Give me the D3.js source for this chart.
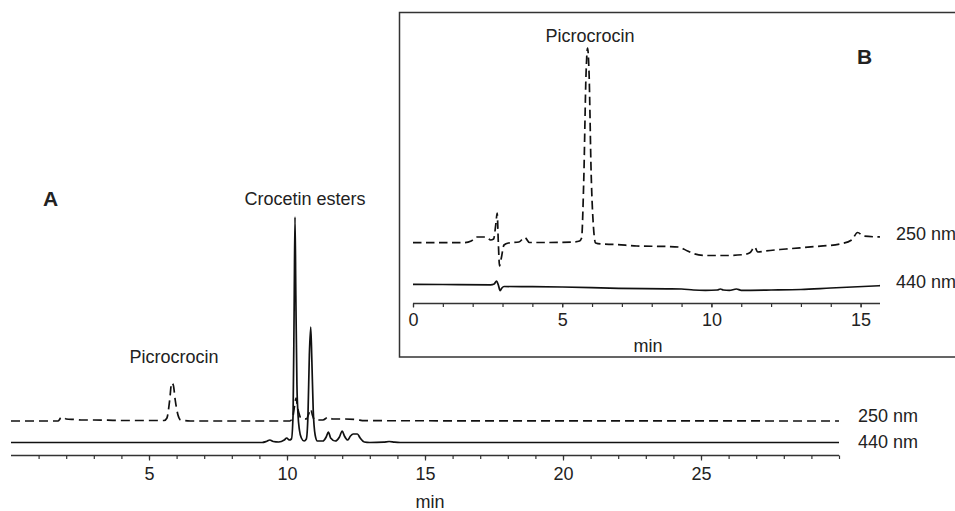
<!DOCTYPE html>
<html><head><meta charset="utf-8">
<script src="https://cdn.jsdelivr.net/npm/d3@7/dist/d3.min.js"></script>
<style>
html,body{margin:0;padding:0;background:#fff;}
svg{display:block;font-family:"Liberation Sans",Arial,sans-serif;}
</style></head>
<body><svg id="c" width="955" height="511"></svg>
<script>
// ---- Panel A (main chromatogram), time in min, signal in relative units (stacked) ----
const mainTicks = [5, 10, 15, 20, 25];
const mainMinor = d3.range(1, 31);
const main250 = [[0,34],[1.7,34],[1.8,37],[1.88,38],[2.0,36],[2.3,35.5],[2.6,35],[3.0,35],[3.5,34.8],[4,34.5],[5.55,34.5],[5.65,37],[5.75,55],[5.82,72],[5.88,70],[5.95,55],[6.05,40],[6.15,35],[6.5,34],[10.1,34],[10.2,37],[10.28,50],[10.33,57],[10.38,48],[10.43,42],[10.5,37],[10.7,36],[10.8,42],[10.86,46],[10.92,40],[11.0,35],[11.3,35],[11.5,38],[11.65,36],[12.0,36],[12.5,35.5],[12.8,34.3],[30,34]];
const main440 = [[0,12.5],[3,12.5],[9.1,12.5],[9.25,13.5],[9.38,15],[9.5,13.5],[9.7,13],[9.9,15],[9.99,17],[10.08,15],[10.16,16],[10.22,40],[10.26,150],[10.29,238],[10.32,160],[10.36,70],[10.4,40],[10.45,25],[10.52,17],[10.62,14],[10.7,16],[10.76,40],[10.81,100],[10.86,128],[10.9,95],[10.95,45],[11.02,20],[11.1,14],[11.3,14],[11.42,18],[11.5,23],[11.58,17],[11.75,14],[11.9,18],[12.0,24],[12.08,19],[12.2,15],[12.3,19],[12.4,21],[12.55,21],[12.65,17],[12.8,13],[13.0,12.5],[13.5,12.8],[13.7,13.5],[13.9,12.8],[14.1,12.5],[30,12.5]];

// ---- Panel B (inset) ----
const insetTicks = [0, 5, 10, 15];
const insetMinor = d3.range(0, 16);
const inset250 = [[0,60.3],[1.7,60.3],[1.95,62],[2.13,66],[2.45,66],[2.6,63],[2.7,64],[2.78,80],[2.82,90],[2.86,60],[2.9,37],[2.96,45],[3.05,58],[3.2,60],[3.55,61],[3.75,65.5],[3.9,60.5],[4.5,60.5],[5.4,61],[5.58,62],[5.65,65],[5.72,120],[5.8,230],[5.85,255],[5.9,230],[5.97,130],[6.05,75],[6.12,60],[6.3,59],[6.8,58.5],[7.5,57],[8.5,56.5],[8.9,56],[9.2,52],[9.4,49.5],[9.8,47.5],[10.5,47.5],[11.1,48.5],[11.3,50.5],[11.45,56],[11.55,51],[11.8,52],[12.5,54],[13.5,56.5],[14.3,59],[14.7,63],[14.9,70.5],[15.1,67],[15.65,66]];
const inset440 = [[0,18.7],[1,18.5],[2.6,18.2],[2.72,19],[2.8,22],[2.86,18],[2.92,12.3],[2.98,15],[3.05,16.5],[4,16.3],[5,16],[6.9,14.7],[8.5,14.2],[9.0,14],[9.4,13],[9.8,12.7],[10.2,13],[10.3,14],[10.4,13],[10.6,12.6],[10.84,14],[11,12.7],[12,13],[13,13.5],[14,15],[15.65,17.3]];

const svg = d3.select("#c");
const ink = "#111";
const axisCol = "#333";

// Main scales
const xA = d3.scaleLinear().domain([0, 30]).range([11, 839]);
const yA = d3.scaleLinear().domain([0, 250]).range([455, 205]);
// Inset scales
const xB = d3.scaleLinear().domain([0, 15.65]).range([413, 880]);
const yB = d3.scaleLinear().domain([0, 260]).range([303, 43]);

// Inset frame
svg.append("rect").attr("x", 399.5).attr("y", 12.5).attr("width", 600).attr("height", 344.5)
  .attr("fill", "#fff").attr("stroke", axisCol).attr("stroke-width", 1.5);

function drawAxis(x, yPos, major, minor, majorLen, minorLen, labelBase) {
  const g = svg.append("g").attr("transform", `translate(0,${yPos})`);
  g.append("line").attr("x1", x.range()[0]).attr("x2", x.range()[1])
    .attr("stroke", axisCol).attr("stroke-width", 1.5);
  const minorAxis = d3.axisBottom(x).tickValues(minor).tickSize(minorLen).tickFormat("").tickSizeOuter(0);
  const gm = g.append("g").call(minorAxis);
  gm.select(".domain").remove();
  gm.selectAll(".tick line").attr("stroke", axisCol).attr("stroke-width", 1.2);
  const majorAxis = d3.axisBottom(x).tickValues(major).tickSize(majorLen).tickPadding(labelBase).tickSizeOuter(0);
  const gM = g.append("g").call(majorAxis);
  gM.select(".domain").remove();
  gM.selectAll(".tick line").attr("stroke", axisCol).attr("stroke-width", 1.2);
  gM.selectAll(".tick text").attr("font-size", 18).attr("fill", "#222")
    .attr("font-family", '"Liberation Sans", Arial, sans-serif');
}

drawAxis(xA, 455.5, mainTicks, mainMinor, 5, 3.5, 7);
drawAxis(xB, 303.5, insetTicks, insetMinor, 4, 3.5, 6);

const lineA = d3.line().x(d => xA(d[0])).y(d => yA(d[1])).curve(d3.curveMonotoneX);
const lineB = d3.line().x(d => xB(d[0])).y(d => yB(d[1])).curve(d3.curveMonotoneX);

svg.append("path").datum(main250).attr("d", lineA).attr("fill", "none")
  .attr("stroke", ink).attr("stroke-width", 1.7).attr("stroke-dasharray", "9,5");
svg.append("path").datum(main440).attr("d", lineA).attr("fill", "none")
  .attr("stroke", ink).attr("stroke-width", 1.7);
svg.append("path").datum(inset250).attr("d", lineB).attr("fill", "none")
  .attr("stroke", ink).attr("stroke-width", 1.7).attr("stroke-dasharray", "8.5,4.5");
svg.append("path").datum(inset440).attr("d", lineB).attr("fill", "none")
  .attr("stroke", ink).attr("stroke-width", 1.7);

function txt(x, y, s, opts = {}) {
  svg.append("text").attr("x", x).attr("y", y).text(s)
    .attr("font-size", opts.size || 18)
    .attr("font-weight", opts.bold ? "bold" : "normal")
    .attr("text-anchor", opts.anchor || "start")
    .attr("fill", "#222");
}

txt(43, 206, "A", {bold: true, size: 21});
txt(305, 205, "Crocetin esters", {anchor: "middle"});
txt(174, 363, "Picrocrocin", {anchor: "middle"});
txt(858, 422, "250 nm");
txt(858, 448, "440 nm");
txt(430, 508, "min", {anchor: "middle"});

txt(590, 42, "Picrocrocin", {anchor: "middle"});
txt(857, 64, "B", {bold: true, size: 21});
txt(896, 240, "250 nm");
txt(896, 288, "440 nm");
txt(648, 352, "min", {anchor: "middle"});
</script></body></html>
